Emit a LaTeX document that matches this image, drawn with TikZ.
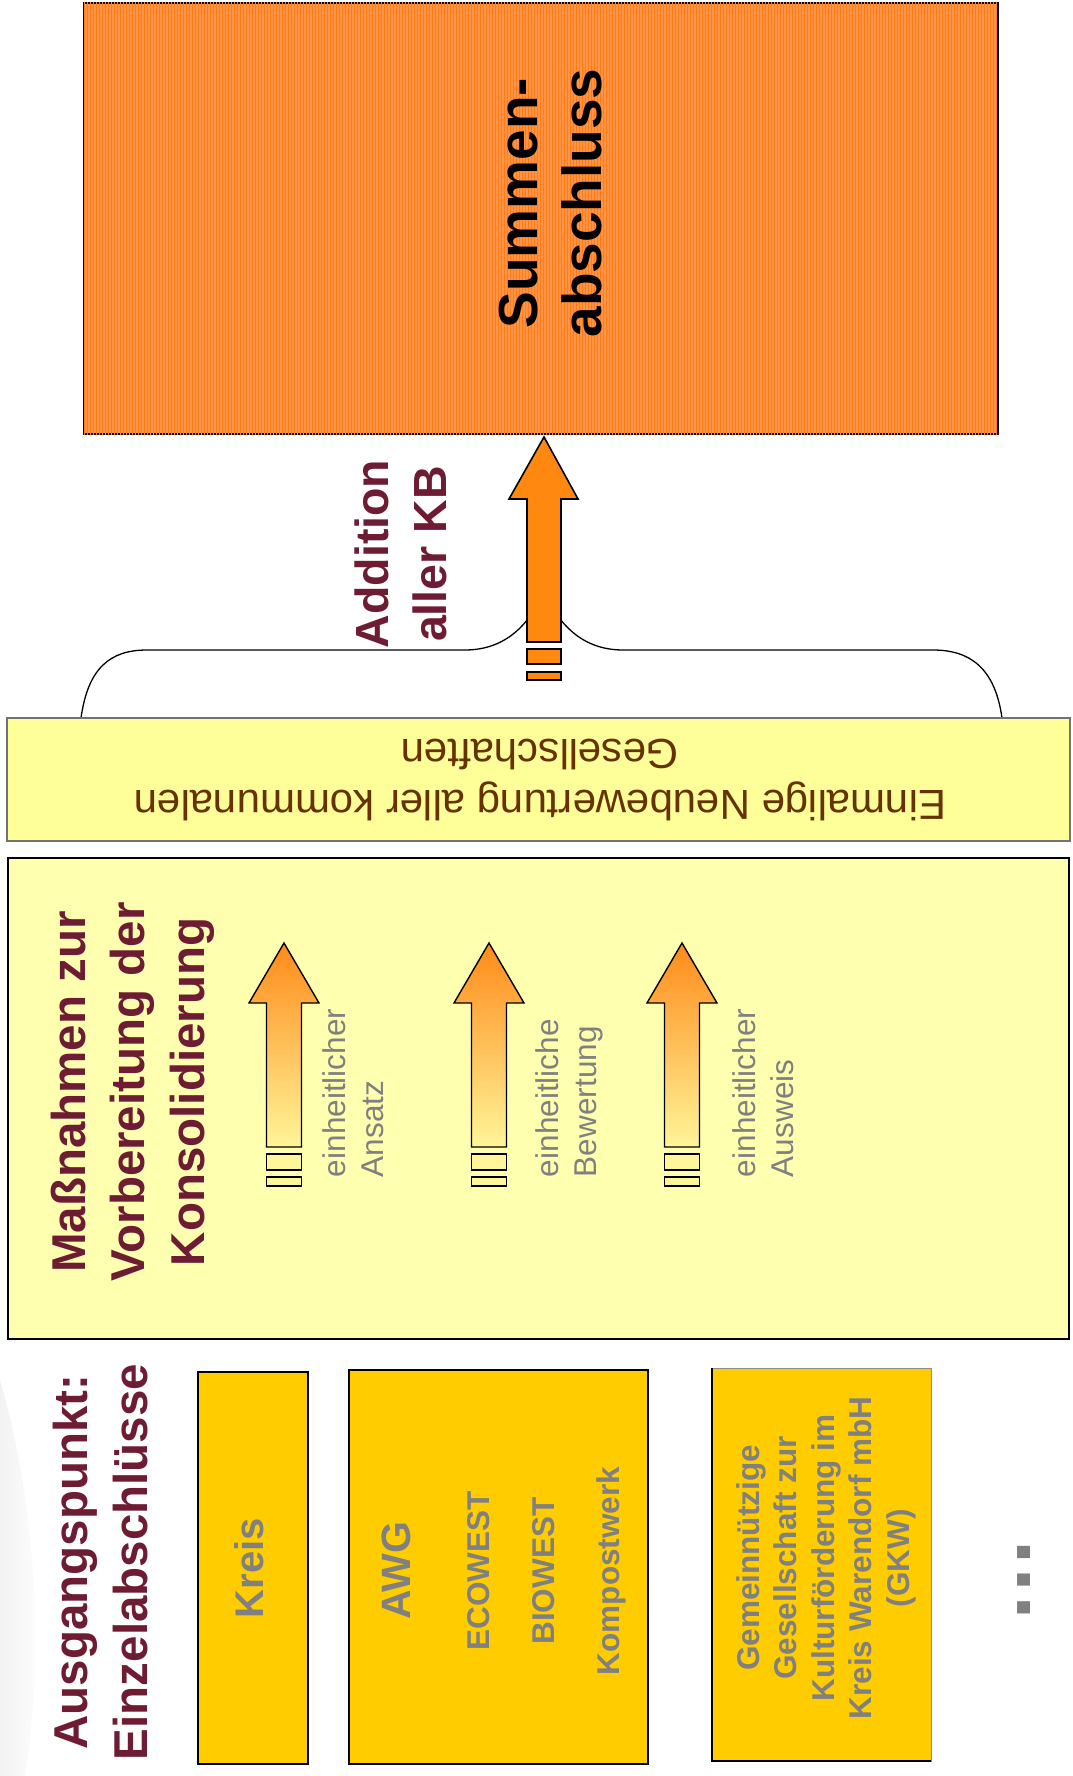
\documentclass[tikz,border=0pt]{standalone}
\usepackage{fontspec}
\setmainfont{Liberation Sans}
\usetikzlibrary{patterns}
\definecolor{maroonT}{HTML}{6E1C33}
\definecolor{grayT}{HTML}{808080}
\definecolor{brownT}{HTML}{663300}
\definecolor{orangeBox}{HTML}{FF9445}
\definecolor{orangeStripe}{HTML}{FF7C18}
\definecolor{orangeArrow}{HTML}{FF8811}
\definecolor{gradTop}{HTML}{FF8A1A}
\definecolor{gradBot}{HTML}{FFF599}
\definecolor{bandFill}{HTML}{FFFF99}
\definecolor{bigFill}{HTML}{FFFFB0}
\definecolor{gold}{HTML}{FFCC00}
\begin{document}
\begin{tikzpicture}[x=1pt,y=-1pt,
  box/.style={inner sep=0pt, outer sep=0pt, anchor=north west},
  txt/.style={inner sep=0pt, outer sep=0pt},
  vtxt/.style={txt, rotate=90},
  gradarrow/.style={draw=black, line width=1.4pt, top color=gradTop, bottom color=gradBot, line join=miter},
  gradstub/.style={draw=black, line width=1.4pt, fill=gradBot},
  bigarrow/.style={draw=black, line width=1.6pt, fill=orangeArrow, line join=miter}]
\useasboundingbox (0,0) rectangle (1072,1776);
\fill[white] (0,0) rectangle (1072,1776);
% faint background swoosh
\shade[left color=black!5, right color=white] (0,1380) .. controls (35,1500) and (45,1650) .. (25,1776) -- (0,1776) -- cycle;

% Summenabschluss box
\node[box, minimum width=914pt, minimum height=431pt, fill=orangeBox,
  postaction={pattern=vertical lines, pattern color=orangeStripe},
  draw=black, line width=2.5pt] (summe) at (84,3) {};
\node[vtxt, anchor=base, font=\fontsize{55}{64}\selectfont\bfseries] (summetxt) at (537,203)
  {\begin{tabular}[t]{@{}c@{}}Summen-\\abschluss\end{tabular}};

% brace
\coordinate (braceL) at (81,718);
\coordinate (braceR) at (1002,718);
\coordinate (braceTip) at (544,590);
\draw[line width=1.3pt] (braceL) .. controls (88,668) and (110,650) .. (147,650) -- (465,650)
  .. controls (505,650) and (530,625) .. (braceTip)
  .. controls (558,625) and (583,650) .. (623,650) -- (933,650)
  .. controls (970,650) and (995,668) .. (braceR);

% big arrow to Summenabschluss
\coordinate (bigtip) at (544,437);
\draw[bigarrow] (bigtip) -- (578,499) -- (561,499) -- (561,642) -- (527,642) -- (527,499) -- (509,499) -- cycle;
\draw[bigarrow] (527,649) rectangle (561,664);
\draw[bigarrow] (527,672) rectangle (561,680);
\node[vtxt, anchor=base, text=maroonT, font=\fontsize{46.5}{58}\selectfont\bfseries] (addtxt) at (388,554)
  {\begin{tabular}[t]{@{}c@{}}Addition\\aller KB\end{tabular}};

% band
\node[box, minimum width=1063pt, minimum height=123pt, fill=bandFill, draw=black!55, line width=1.2pt] (band) at (7,718) {};
\node[txt, rotate=180, anchor=base, text=brownT, font=\fontsize{42}{51}\selectfont] (bandtxt) at (540,790)
  {\begin{tabular}[t]{@{}c@{}}Einmalige Neubewertung aller kommunalen\\Gesellschaften\end{tabular}};

% big yellow box
\node[box, minimum width=1061pt, minimum height=481pt, fill=bigFill, draw=black, line width=2pt] (mass) at (8,858) {};
\node[vtxt, anchor=base, text=maroonT, font=\fontsize{47.5}{59.5}\selectfont\bfseries] (masstxt) at (85,1092)
  {\begin{tabular}[t]{@{}c@{}}Maßnahmen zur\\Vorbereitung der\\Konsolidierung\end{tabular}};

% gradient arrows
\draw[gradarrow] (284,943) -- (319,1003) -- (301.5,1003) -- (301.5,1147) -- (266.5,1147) -- (266.5,1003) -- (249,1003) -- cycle;
\draw[gradstub] (266.5,1154) rectangle (301.5,1170);
\draw[gradstub] (266.5,1177) rectangle (301.5,1186);
\draw[gradarrow] (489,943) -- (524,1003) -- (506.5,1003) -- (506.5,1147) -- (471.5,1147) -- (471.5,1003) -- (454,1003) -- cycle;
\draw[gradstub] (471.5,1154) rectangle (506.5,1170);
\draw[gradstub] (471.5,1177) rectangle (506.5,1186);
\draw[gradarrow] (682,943) -- (717,1003) -- (699.5,1003) -- (699.5,1147) -- (664.5,1147) -- (664.5,1003) -- (647,1003) -- cycle;
\draw[gradstub] (664.5,1154) rectangle (699.5,1170);
\draw[gradstub] (664.5,1177) rectangle (699.5,1186);

\node[vtxt, anchor=base west, text=grayT, font=\fontsize{31.5}{38}\selectfont] (lbl1) at (345,1177)
  {\begin{tabular}[t]{@{}l@{}}einheitlicher\\Ansatz\end{tabular}};
\node[vtxt, anchor=base west, text=grayT, font=\fontsize{31.5}{38}\selectfont] (lbl2) at (558,1177)
  {\begin{tabular}[t]{@{}l@{}}einheitliche\\Bewertung\end{tabular}};
\node[vtxt, anchor=base west, text=grayT, font=\fontsize{31.5}{38}\selectfont] (lbl3) at (755,1177)
  {\begin{tabular}[t]{@{}l@{}}einheitlicher\\Ausweis\end{tabular}};

% bottom section
\node[vtxt, anchor=base, text=maroonT, font=\fontsize{47.5}{60}\selectfont\bfseries] (ausgtxt) at (87,1562)
  {\begin{tabular}[t]{@{}c@{}}Ausgangspunkt:\\Einzelabschlüsse\end{tabular}};

\node[box, minimum width=110pt, minimum height=392pt, fill=gold, draw=black, line width=2.2pt] (kreis) at (198,1372) {};
\node[vtxt, anchor=base, text=grayT, font=\fontsize{40}{48}\selectfont\bfseries] (kreistxt) at (263,1568) {Kreis};

\node[box, minimum width=299pt, minimum height=394pt, fill=gold, draw=black, line width=2.2pt] (awg) at (349,1370) {};
\node[vtxt, anchor=base, text=grayT, font=\fontsize{31.5}{65}\selectfont\bfseries] (awgtxt) at (410,1571)
  {\begin{tabular}[t]{@{}c@{}}{\fontsize{41}{48}\selectfont AWG}\\[14pt]ECOWEST\\BIOWEST\\Kompostwerk\end{tabular}};

\node[box, minimum width=219pt, minimum height=393pt, fill=gold, draw=black!45, line width=0.8pt] (gkw) at (712,1368) {};
\draw[line width=2.2pt] (gkw.north west) -- (gkw.south west) -- (gkw.south east);
\node[vtxt, anchor=base, text=grayT, font=\fontsize{31.5}{37.5}\selectfont\bfseries] (gkwtxt) at (759,1558)
  {\begin{tabular}[t]{@{}c@{}}Gemeinnützige\\Gesellschaft zur\\Kulturförderung im\\Kreis Warendorf mbH\\(GKW)\end{tabular}};

\node[vtxt, anchor=base, text=grayT, font=\fontsize{87}{90}\selectfont\bfseries] (dots) at (1030,1580) {…};
\end{tikzpicture}
\end{document}
